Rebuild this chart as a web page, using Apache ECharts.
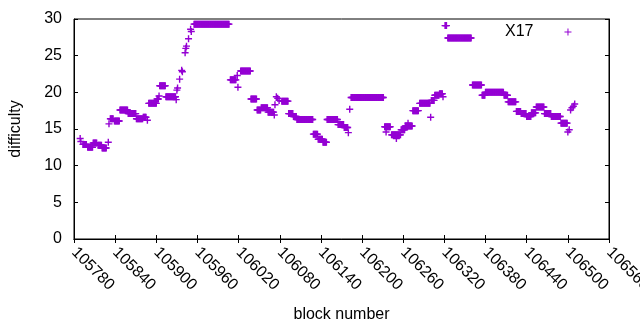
<!DOCTYPE html>
<html>
<head>
<meta charset="utf-8">
<script src="https://cdn.jsdelivr.net/npm/echarts@6/dist/echarts.min.js"></script>
<style>
  html, body { margin: 0; padding: 0; background: #fff; }
  #chart { width: 640px; height: 330px; }
</style>
</head>
<body>
<div id="chart"></div>
<script>
// runs of blocks with (nearly) the same difficulty
let runFirst = [105789,105790,105793,105800,105808,105815,105821,105830,105831,105833,105839,105847,105859,105871,105881,105887,105889,105901,105904,105905,105914,105929,105930,105931,105934,105937,105938,105942,105943,105944,105947,105950,105951,105955,106008,106018,106019,106023,106038,106047,106053,106063,106072,106073,106075,106077,106079,106083,106093,106100,106105,106129,106136,106143,106149,106165,106174,106180,106182,106184,106233,106235,106243,106250,106257,106263,106267,106274,106284,106300,106301,106306,106313,106318,106321,106325,106361,106375,106380,106407,106413,106425,106432,106440,106447,106454,106466,106476,106490,106500,106502,106504,106506,106508,106510];
let runLast  = [105789,105790,105798,105807,105813,105820,105827,105830,105831,105837,105846,105858,105870,105880,105885,105887,105900,105903,105904,105913,105928,105929,105930,105931,105934,105937,105938,105942,105943,105944,105947,105950,105951,106006,106016,106018,106019,106037,106046,106052,106062,106071,106072,106073,106075,106077,106079,106092,106099,106104,106128,106135,106142,106148,106164,106173,106179,106180,106182,106231,106241,106235,106256,106250,106262,106273,106267,106282,106299,106300,106305,106312,106317,106318,106323,106359,106374,106379,106406,106412,106424,106431,106439,106446,106453,106465,106475,106489,106499,106500,106502,106504,106506,106508,106510];
let runValue = [13.7,13.3,12.9,12.5,13.1,12.8,12.4,13.2,15.7,16.4,16.1,17.6,17.1,16.4,16.6,16.2,18.5,19.1,19.5,20.9,19.4,19.0,20.3,20.6,21.8,23.0,22.8,25.4,26.0,26.3,27.3,28.6,28.3,29.3,21.7,22.3,20.7,22.9,19.1,17.6,17.9,17.3,16.9,18.3,19.4,19.2,18.9,18.8,17.1,16.7,16.3,14.3,13.6,13.2,16.3,15.6,15.2,14.5,17.7,19.3,15.3,14.6,14.2,13.7,14.9,15.4,15.8,17.5,18.5,16.6,18.9,19.6,19.8,19.4,29.1,27.4,21.0,19.6,20.0,19.6,18.7,17.4,17.1,16.7,17.2,18.0,17.1,16.7,15.8,14.6,14.9,17.6,17.9,18.1,18.4];

let xTicks = { min: 105780, max: 106560, step: 60 };
let yTicks = { min: 0, max: 30, step: 5 };

// one point per block
let points = [];
for (let i = 0; i < runFirst.length; i++) {
  for (let b = runFirst[i]; b <= runLast[i]; b++) {
    points.push([b, runValue[i]]);
  }
}

const font = 'Liberation Sans, Arial, sans-serif';
const plus = 'path://M2.8,0h1.4v2.8h2.8v1.4h-2.8v2.8h-1.4v-2.8h-2.8v-1.4h2.8z';
const plusThin = 'path://M3,0h1v3h3v1h-3v3h-1v-3h-3v-1h3z';
const purple = '#9400d3';

let chart = echarts.init(document.getElementById('chart'), null, { renderer: 'canvas' });

let tickStyle = { inside: true, length: 4, lineStyle: { color: '#000', width: 1 } };
let lineStyle = { show: true, lineStyle: { color: '#000', width: 1 } };

let option = {
  animation: false,
  backgroundColor: '#fff',
  textStyle: { fontFamily: font },
  grid: {
    left: 74, right: 31, top: 19, bottom: 91,
    containLabel: false, outerBoundsMode: 'none',
    show: true, borderColor: '#000', borderWidth: 1
  },
  legend: {
    data: ['X17'],
    left: 505,
    top: 24,
    padding: 0,
    align: 'right',
    itemWidth: 7,
    itemHeight: 7,
    icon: plusThin,
    textStyle: { fontSize: 16, color: '#000', fontFamily: font, padding: [0, 26, 0, 0] }
  },
  xAxis: [{
    type: 'value',
    min: xTicks.min, max: xTicks.max, interval: xTicks.step,
    name: 'block number',
    nameLocation: 'middle',
    nameGap: 68,
    nameTextStyle: { fontSize: 16, color: '#000', fontFamily: font },
    axisLine: lineStyle,
    axisTick: tickStyle,
    splitLine: { show: false },
    axisLabel: {
      rotate: -45, margin: 11, fontSize: 16, color: '#000', fontFamily: font,
      showMaxLabel: true, showMinLabel: true, hideOverlap: false,
      formatter: function (v) { return String(v); }
    }
  }, {
    type: 'value', position: 'top',
    min: xTicks.min, max: xTicks.max, interval: xTicks.step,
    axisLine: lineStyle, axisTick: tickStyle,
    axisLabel: { show: false }, splitLine: { show: false }
  }],
  yAxis: [{
    type: 'value',
    min: yTicks.min, max: yTicks.max, interval: yTicks.step,
    name: 'difficulty',
    nameLocation: 'middle',
    nameRotate: 90,
    nameGap: 50,
    nameTextStyle: { fontSize: 16, color: '#000', fontFamily: font },
    axisLine: lineStyle,
    axisTick: tickStyle,
    splitLine: { show: false },
    axisLabel: { margin: 12, fontSize: 16, color: '#000', fontFamily: font }
  }, {
    type: 'value', position: 'right',
    min: yTicks.min, max: yTicks.max, interval: yTicks.step,
    axisLine: lineStyle, axisTick: tickStyle,
    axisLabel: { show: false }, splitLine: { show: false }
  }],
  series: [{
    name: 'X17',
    type: 'scatter',
    xAxisIndex: 0,
    yAxisIndex: 0,
    symbol: plus,
    symbolSize: 7,
    itemStyle: { color: purple, opacity: 1 },
    data: points
  }]
};

chart.setOption(option);
window.addEventListener('resize', function () {
  chart.resize();
});
</script>
</body>
</html>
